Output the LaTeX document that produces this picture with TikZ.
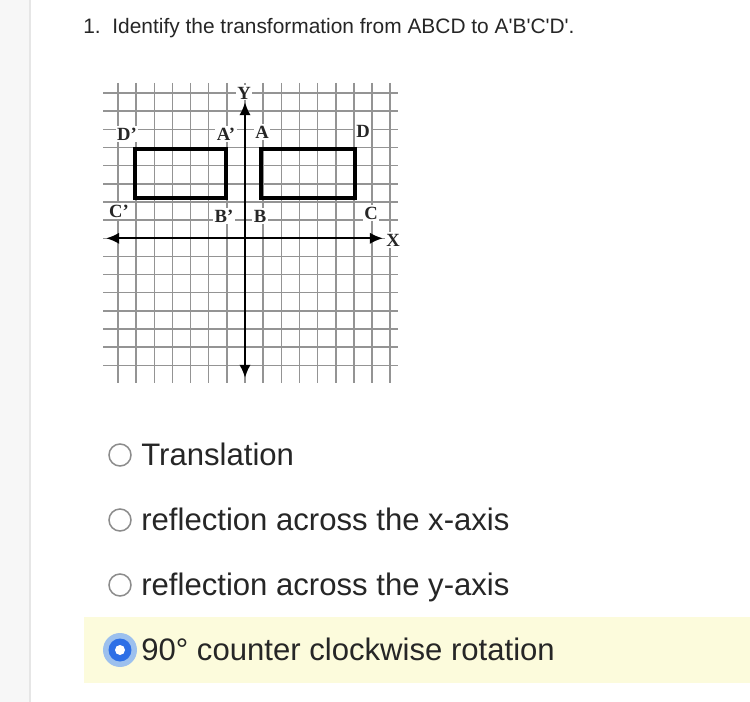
\documentclass[tikz,border=0pt]{standalone}
\usepackage{fontspec}
\setmainfont{Liberation Sans}
\newfontfamily\ptfont{Liberation Serif}
\usetikzlibrary{arrows.meta}

\definecolor{sidegray}{HTML}{F7F7F7}
\definecolor{sideline}{HTML}{E6E6E6}
\definecolor{inktext}{HTML}{262626}
\definecolor{hilite}{HTML}{FCFBDC}
\definecolor{ringgray}{HTML}{8C8C8C}
\definecolor{focusblue}{HTML}{9CC0EE}
\definecolor{selblue}{HTML}{2D6FE6}

\tikzset{
    gridline/.style={black!42, line width=0.85pt},
    axisline/.style={line width=1.3pt, {Latex[length=7.5pt,width=6.5pt]}-{Latex[length=7.5pt,width=6.5pt]}},
    figline/.style={line width=2.8pt},
    ptlabel/.style={fill=white, inner sep=0.8pt, text=black!85, font=\ptfont\bfseries\fontsize{10.6}{12}\selectfont},
    answer/.style={anchor=base west, inner sep=0pt, text=inktext, font=\fontsize{17.7}{20}\selectfont},
    radio/.style={circle, draw=ringgray, line width=0.85pt, fill=white, minimum size=0.44cm, inner sep=0pt}
}

\begin{document}
\begin{tikzpicture}[x=0.02cm, y=-0.02cm]
    \useasboundingbox (0,0) rectangle (750,702);
    \fill[white] (0,0) rectangle (750,702);
    \fill[sidegray] (0,0) rectangle (30,702);
    \draw[sideline, line width=0.8pt] (30,0) -- (30,702);

    % question
    \node[anchor=base west, inner sep=0pt, text=inktext, font=\fontsize{11.9}{14}\selectfont] (question) at (83,34)
        {1.\ \ Identify the transformation from ABCD to A\textquotesingle B\textquotesingle C\textquotesingle D\textquotesingle.};

    % grid
    \foreach \k in {-7,...,8} {
        \draw[gridline] ({245+18.15*\k},83) -- ({245+18.15*\k},383);
        \draw[gridline] (103,{238.3-18.15*\k}) -- (398,{238.3-18.15*\k});
    }

    % axes
    \coordinate (xleft) at (106,238.3);
    \coordinate (xright) at (383,238.3);
    \coordinate (ytop) at (245,102);
    \coordinate (ybottom) at (245,378);
    \draw[axisline] (xleft) -- (xright);
    \draw[axisline] (ybottom) -- (ytop);

    % rectangles
    \draw[figline] (135,149) rectangle (226,198);
    \draw[figline] (261,149) rectangle (355,198);

    % labels
    \foreach \name/\x/\y/\txt in {Dp/127/134/D’, Ap/226/134/A’, A/262/132/A, D/363/131/D,
                                  Cp/119/211/C’, Bp/224/216/B’, B/260/216/B, C/371/213/C,
                                  X/393/240/X, Y/244/93/Y} {
        \node[ptlabel] (\name) at (\x,\y) {\txt};
    }

    % choices
    \fill[hilite] (84,617) rectangle (750,683);
    \foreach \n/\y/\txt in {1/465/Translation, 2/530/reflection across the x-axis,
                            3/595/reflection across the y-axis} {
        \node[radio] (radio\n) at (120,{\y-10}) {};
        \node[answer] (choice\n) at (141,\y) {\txt};
    }
    \node[circle, fill=focusblue, minimum size=0.68cm, inner sep=0pt] (radio4) at (120,650) {};
    \node[circle, fill=selblue, minimum size=0.46cm, inner sep=0pt] (radio4in) at (radio4) {};
    \node[circle, fill=white, minimum size=0.2cm, inner sep=0pt] (radio4dot) at (radio4) {};
    \node[answer] (choice4) at (141,660) {90° counter clockwise rotation};
\end{tikzpicture}
\end{document}
